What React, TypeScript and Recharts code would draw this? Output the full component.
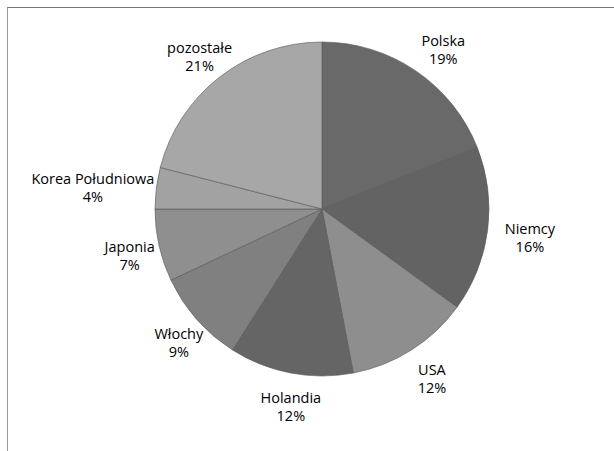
import { PieChart, Pie, Cell } from 'recharts'

const countries = ['Polska', 'Niemcy', 'USA', 'Holandia', 'Włochy', 'Japonia', 'Korea Południowa', 'pozostałe']
const shares = [19, 16, 12, 12, 9, 7, 4, 21]
const sliceColors = ['#696969', '#636363', '#8e8e8e', '#656565', '#808080', '#8f8f8f', '#a2a2a2', '#a7a7a7']

const data = countries.map((name, i) => ({ name, value: shares[i] }))

const RAD = Math.PI / 180
const FONT = '"Open Sans", sans-serif'

// outside label: anchor beyond the arc, text box pushed outwards by its half size
const renderLabel = (props: any) => {
  const { cx, cy, midAngle, outerRadius, name, value } = props
  const a = -midAngle * RAD
  const dx = Math.cos(a)
  const dy = Math.sin(a)
  const halfW = Math.max(name.length, String(value).length + 1) * 3.75
  const halfH = 18
  const r = outerRadius + 12
  const x = cx + 8 + (r + halfW) * dx
  const y = cy + 4 + (r + halfH) * dy
  return (
    <text x={x} y={y} textAnchor="middle" fontFamily={FONT} fontSize={14.5} fontWeight={500} fill="#000">
      <tspan x={x} dy={-4}>{name}</tspan>
      <tspan x={x} dy={18}>{value}%</tspan>
    </text>
  )
}

export default function App() {
  return (
    <div style={{ position: 'absolute', left: 0, top: 0, width: 614, height: 451, background: '#fff' }}>
      <div
        style={{
          position: 'absolute', left: 7, top: 7, width: 614, height: 451,
          borderTop: '1px solid #777', borderLeft: '1.5px solid #999',
        }}
      />
      <div style={{ position: 'absolute', left: 0, top: 0 }}>
        <PieChart width={614} height={451} margin={{ top: 0, right: 0, bottom: 0, left: 0 }}>
          <Pie
            data={data}
            dataKey="value"
            nameKey="name"
            cx={322}
            cy={209}
            outerRadius={167}
            startAngle={90}
            endAngle={-270}
            stroke="#575757"
            strokeWidth={0.6}
            labelLine={false}
            label={renderLabel}
            isAnimationActive={false}
          >
            {data.map((d, i) => (
              <Cell key={d.name} fill={sliceColors[i]} />
            ))}
          </Pie>
        </PieChart>
      </div>
    </div>
  )
}
